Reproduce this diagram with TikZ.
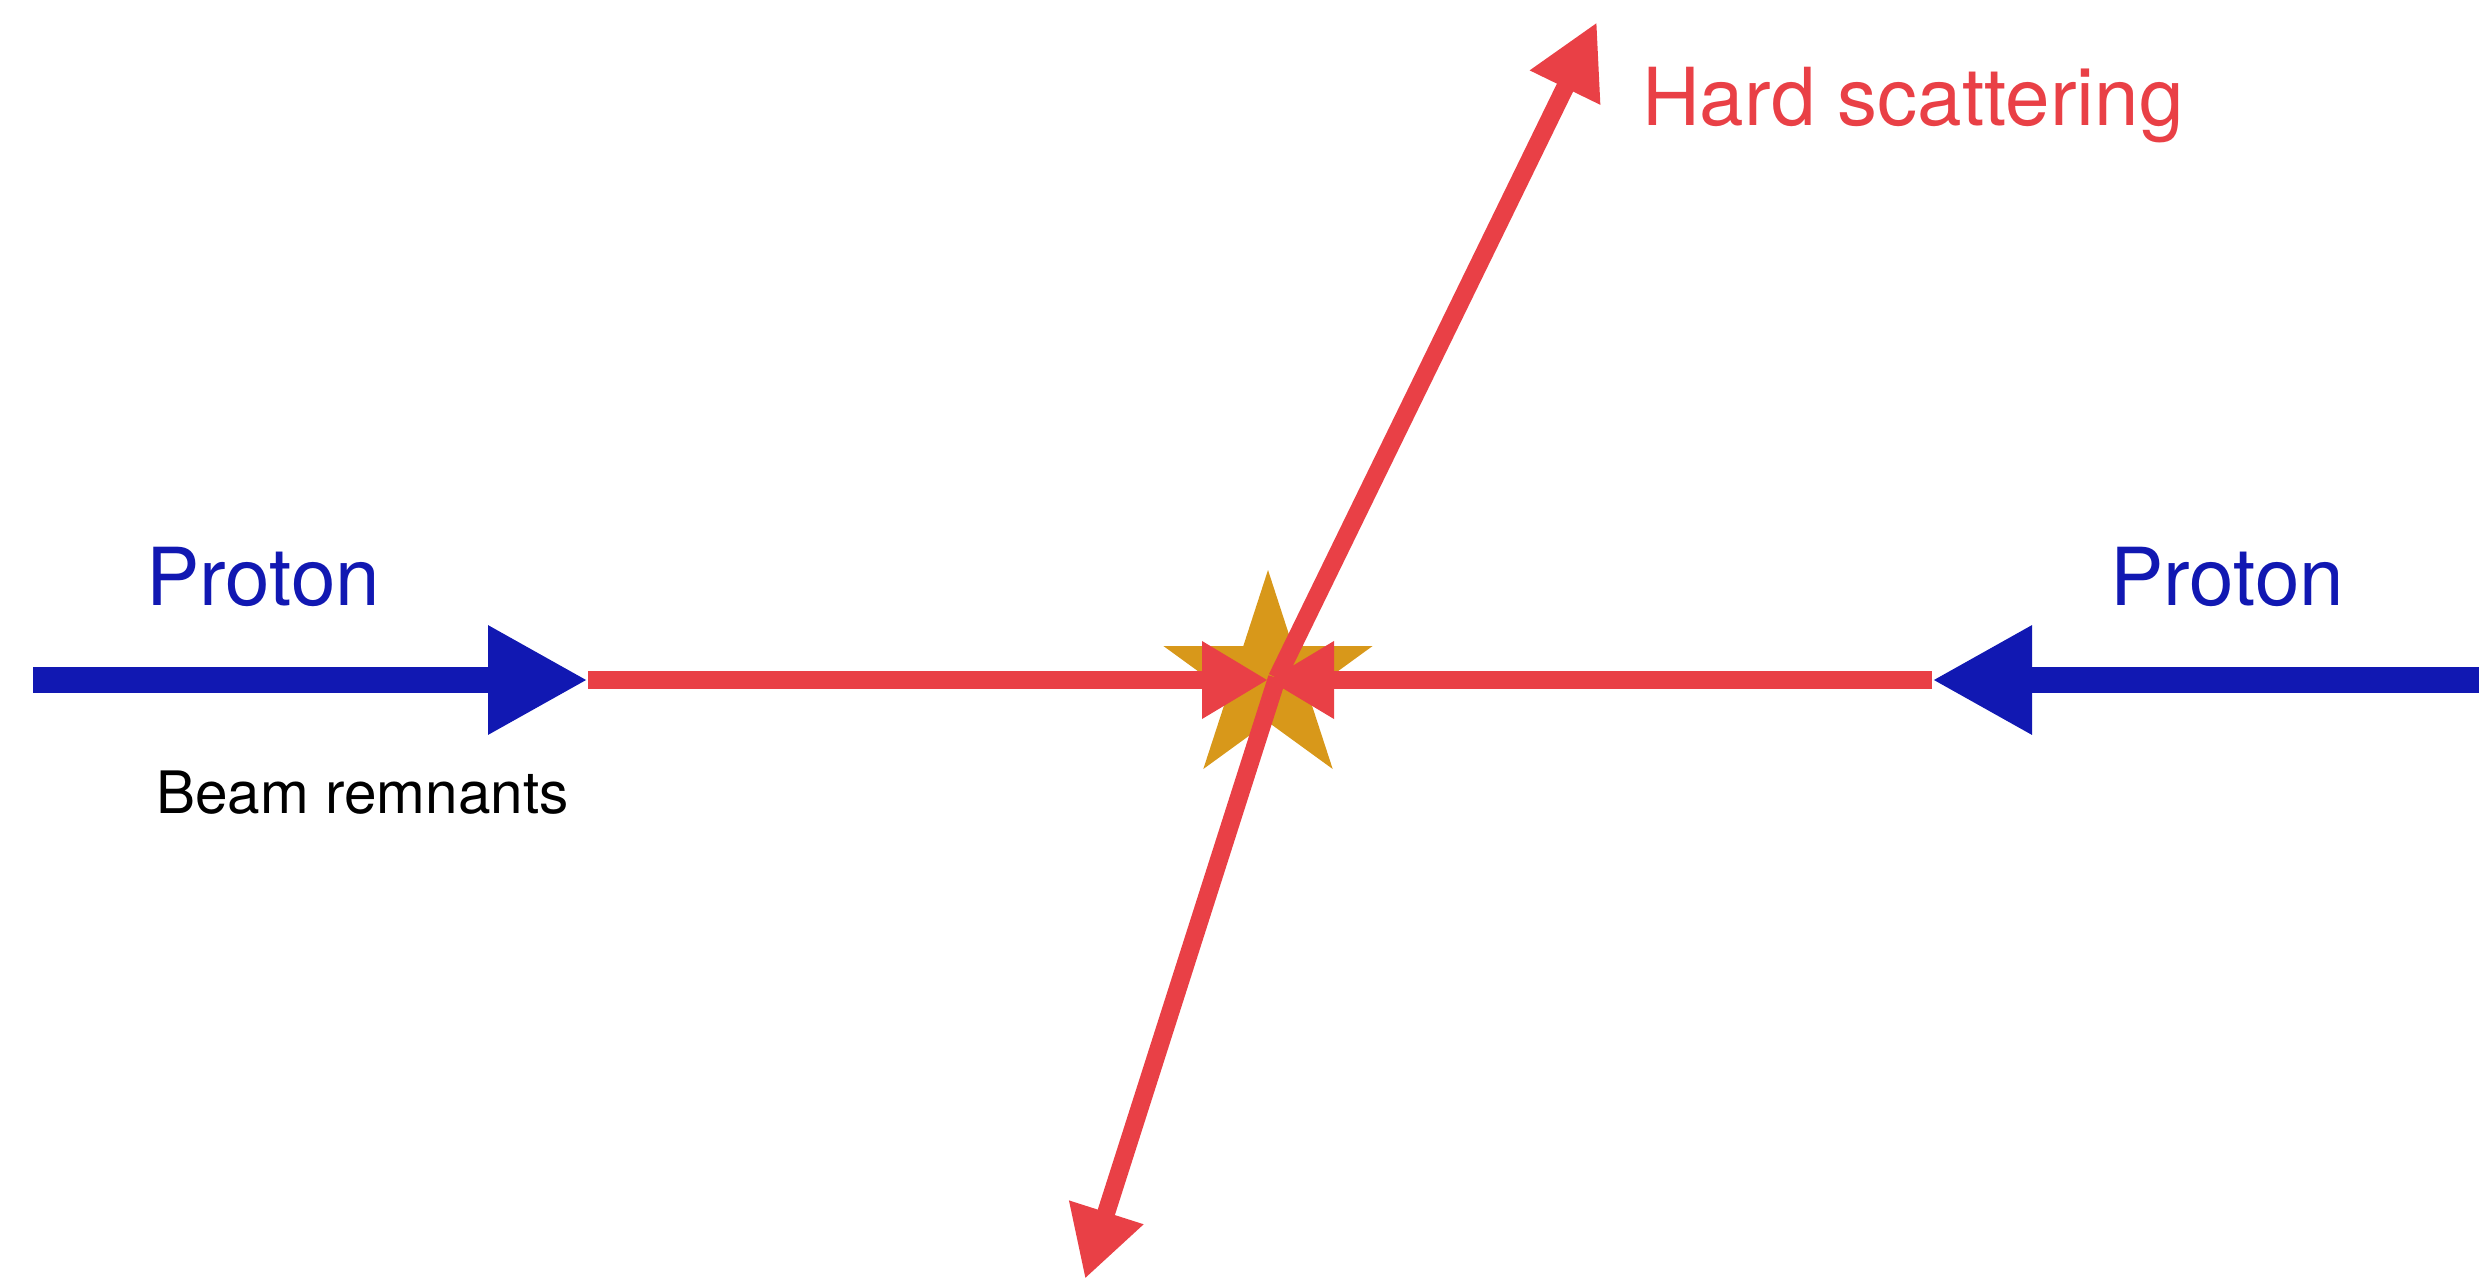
\documentclass[tikz,border=0pt]{standalone}
\usepackage{fontspec}
\setmainfont{TeX Gyre Heros}
\usetikzlibrary{arrows.meta}
\definecolor{pblue}{RGB}{17,24,178}
\definecolor{pred}{RGB}{233,64,70}
\definecolor{pgold}{RGB}{216,152,26}
\begin{document}
\begin{tikzpicture}[x=1pt,y=-1pt,
  beam/.style={draw=pblue,line width=26pt,-{Triangle[length=100pt,width=102pt]},pblue},
  jet/.style={draw=pred,line width=18pt,pred},
  lbl/.style={anchor=base west,inner sep=0pt,font=\fontsize{80}{96}\selectfont},
  small/.style={anchor=base west,inner sep=0pt,font=\fontsize{58.5}{70}\selectfont}]
\useasboundingbox (0,0) rectangle (2479,1280);
% coordinates
\coordinate (lstart) at (33,680);
\coordinate (ltip) at (588,680);
\coordinate (rstart) at (2479,680);
\coordinate (rtip) at (1932,680);
\coordinate (c) at (1268,680);
\coordinate (v) at (1277,678);
\coordinate (up) at (1597,22);
\coordinate (down) at (1085,1279);
% star
\fill[pgold] (1268,570) -- (1292.7,646) -- (1372.6,646) -- (1307.9,693) -- (1332.7,769)
  -- (1268,722) -- (1203.3,769) -- (1228.1,693) -- (1163.4,646) -- (1243.3,646) -- cycle;
% red lines
\draw[jet,-{Triangle[length=66pt,width=73pt]}] (ltip) -- (c);
\draw[jet,-{Triangle[length=66pt,width=73pt]}] (rtip) -- (c);
\draw[jet,-{Triangle[length=73pt,width=73pt]}] (v) -- (up);
\draw[jet,-{Triangle[length=70pt,width=73pt]}] (v) -- (down);
% blue beams
\draw[beam] (lstart) -- (ltip);
\draw[beam] (rstart) -- (rtip);
% labels
\node[lbl,text=pblue] (p1) at (146,605) {Proton};
\node[lbl,text=pblue] (p2) at (2110,605) {Proton};
\node[lbl,text=pred] (hs) at (1642,125) {Hard scattering};
\node[small,text=black] (br) at (156,813) {Beam remnants};
\end{tikzpicture}
\end{document}
